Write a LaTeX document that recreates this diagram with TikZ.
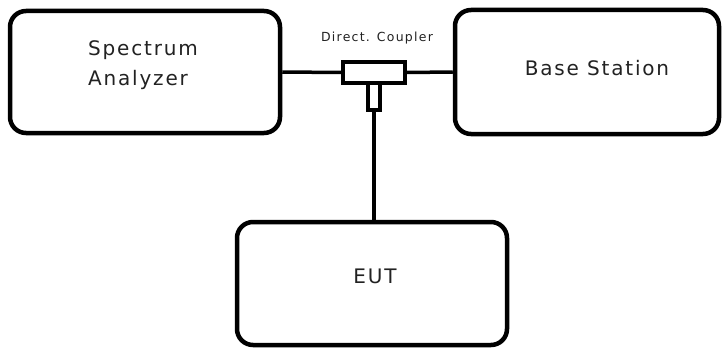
\documentclass[tikz,border=0pt]{standalone}
\usepackage{fontspec}
\setmainfont{DejaVu Sans}
\definecolor{txtgray}{HTML}{222222}
\begin{document}
\begin{tikzpicture}[x=1pt,y=-1pt,
  box/.style={draw=black,line width=4.5pt,rounded corners=16pt,inner sep=0pt,fill=white},
  cpl/.style={draw=black,line width=4pt,inner sep=0pt,fill=white},
  wire/.style={draw=black,line width=3.5pt},
  txt/.style={text=txtgray,inner sep=0pt,font=\addfontfeature{LetterSpace=9}\fontsize{20}{30}\selectfont},
  small/.style={text=txtgray,inner sep=0pt,font=\addfontfeature{LetterSpace=10}\fontsize{12.5}{14}\selectfont}]
\useasboundingbox (0,0) rectangle (722,350);
% boxes
\node[box,minimum width=270pt,minimum height=122pt] (sa) at (145,72) {};
\node[box,minimum width=264pt,minimum height=124pt] (bs) at (587,72) {};
\node[box,minimum width=270pt,minimum height=123pt] (eut) at (372,283.5) {};
% coupler
\node[cpl,minimum width=12pt,minimum height=27pt] (stub) at (374,96.5) {};
\node[cpl,minimum width=62pt,minimum height=21pt] (cp) at (374,72.5) {};
% connectors
\draw[wire] (sa.east) -- (cp.west);
\draw[wire] (cp.east) -- (bs.west);
\draw[wire] (stub.south) -- (stub.south |- eut.north);
% texts
\node[txt,align=left] (tsa) at (143,65) {Spectrum\\Analyzer};
\node[txt] (tbs) at (597,68) {Base Station};
\node[txt] (teut) at (375,276) {EUT};
\node[small] (tcp) at (377,38) {Direct. Coupler};
\end{tikzpicture}
\end{document}
